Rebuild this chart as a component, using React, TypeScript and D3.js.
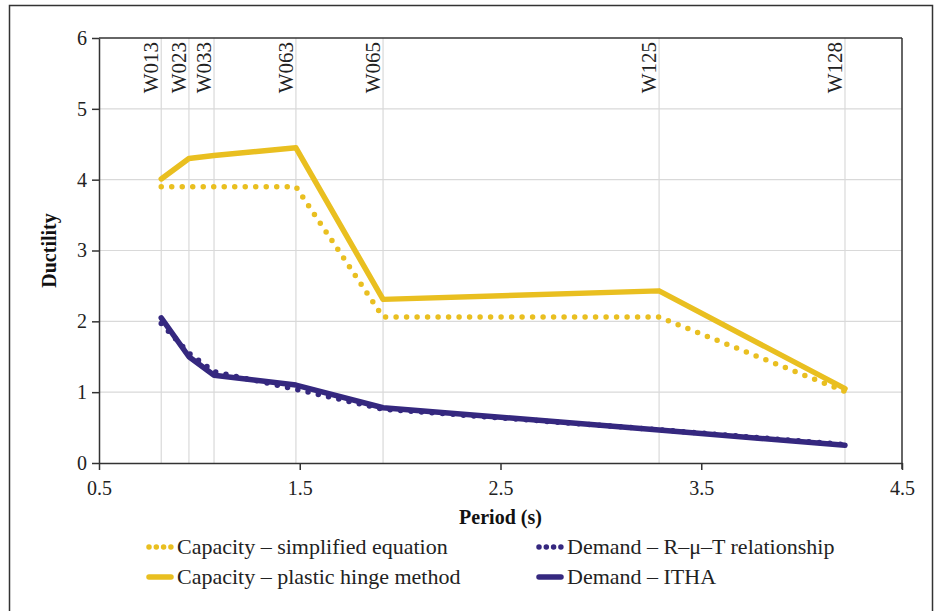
import React, { useEffect, useRef } from 'react'
import * as d3 from 'd3'

const walls = ['W013', 'W023', 'W033', 'W063', 'W065', 'W125', 'W128']
const periods = [0.81, 0.948, 1.073, 1.481, 1.915, 3.29, 4.216]
const capSimplified = [3.9, 3.9, 3.9, 3.9, 2.06, 2.06, 1.01]
const capHinge = [4.01, 4.3, 4.34, 4.45, 2.31, 2.43, 1.05]
const demRmuT = [1.97, 1.55, 1.29, 1.04, 0.76, 0.47, 0.26]
const demITHA = [2.05, 1.5, 1.24, 1.1, 0.78, 0.465, 0.25]
const xTicks = [0.5, 1.5, 2.5, 3.5, 4.5]
const yTicks = [0, 1, 2, 3, 4, 5, 6]

const YELLOW = '#E9BF20'
const PURPLE = '#35287F'
const FONT = '"Liberation Serif", serif'

const seriesList = [
  { name: 'Capacity \u2013 simplified equation', values: capSimplified, color: YELLOW, dotted: true },
  { name: 'Capacity \u2013 plastic hinge method', values: capHinge, color: YELLOW, dotted: false },
  { name: 'Demand \u2013 R\u2013\u03bc\u2013T relationship', values: demRmuT, color: PURPLE, dotted: true },
  { name: 'Demand \u2013 ITHA', values: demITHA, color: PURPLE, dotted: false },
]

const App = () => {
  const ref = useRef<SVGSVGElement>(null)

  useEffect(() => {
    const svg = d3.select(ref.current)
    svg.selectAll('*').remove()
    const W = 938, H = 611
    const m = { left: 99, right: 902, top: 38, bottom: 463 }

    const x = d3.scaleLinear().domain([0.5, 4.5]).range([m.left, m.right])
    const y = d3.scaleLinear().domain([0, 6]).range([m.bottom, m.top])

    svg.append('rect').attr('width', W).attr('height', H).attr('fill', '#fff')
    // outer frame
    svg.append('rect').attr('x', 9.5).attr('y', 5.5).attr('width', 923).attr('height', 620)
      .attr('fill', 'none').attr('stroke', '#333').attr('stroke-width', 1.5)

    // grid
    svg.append('g').selectAll('line').data(yTicks.filter(d => d > 0 && d < 6)).join('line')
      .attr('x1', m.left).attr('x2', m.right)
      .attr('y1', d => y(d)).attr('y2', d => y(d))
      .attr('stroke', '#d9d9d9').attr('stroke-width', 1.2)
    svg.append('g').selectAll('line').data(periods).join('line')
      .attr('x1', d => x(d)).attr('x2', d => x(d))
      .attr('y1', m.top).attr('y2', m.bottom)
      .attr('stroke', '#d9d9d9').attr('stroke-width', 1.2)

    // wall labels
    svg.append('g').selectAll('text').data(walls).join('text')
      .attr('transform', (d, i) => `translate(${x(periods[i]) - 3}, ${m.top + 4}) rotate(-90)`)
      .attr('text-anchor', 'end')
      .attr('font-family', FONT).attr('font-size', 21).attr('fill', '#222')
      .text(d => d)

    // plot border
    svg.append('line').attr('x1', m.left).attr('x2', m.right).attr('y1', m.top).attr('y2', m.top)
      .attr('stroke', '#333').attr('stroke-width', 1.5)
    svg.append('line').attr('x1', m.right).attr('x2', m.right).attr('y1', m.top).attr('y2', m.bottom + 6)
      .attr('stroke', '#333').attr('stroke-width', 1.5)

    // axes
    const xAxis = svg.append('g').attr('transform', `translate(0, ${m.bottom})`)
      .call(d3.axisBottom(x).tickValues(xTicks).tickFormat(d3.format('.1f')).tickSize(7).tickSizeOuter(0))
    const yAxis = svg.append('g').attr('transform', `translate(${m.left}, 0)`)
      .call(d3.axisLeft(y).tickValues(yTicks).tickFormat(d3.format('d')).tickSize(7).tickSizeOuter(0))
    ;[xAxis, yAxis].forEach(a => {
      a.selectAll('path,line').attr('stroke', '#333').attr('stroke-width', 1.5)
      a.selectAll('text').attr('font-family', FONT).attr('font-size', 20).attr('fill', '#222')
    })
    xAxis.selectAll('text').attr('dy', '1.1em')
    yAxis.selectAll('text').attr('x', -12)

    svg.append('text').attr('x', (m.left + m.right) / 2).attr('y', 524)
      .attr('text-anchor', 'middle').attr('font-family', FONT).attr('font-size', 20)
      .attr('font-weight', 'bold').attr('fill', '#111').text('Period (s)')
    svg.append('text').attr('transform', `translate(56, ${(m.top + m.bottom) / 2}) rotate(-90)`)
      .attr('text-anchor', 'middle').attr('font-family', FONT).attr('font-size', 20)
      .attr('font-weight', 'bold').attr('fill', '#111').text('Ductility')

    // series
    const line = d3.line<number>().x((d, i) => x(periods[i])).y(d => y(d))
    const order = [1, 0, 3, 2]
    order.forEach(k => {
      const s = seriesList[k]
      svg.append('path').attr('d', line(s.values))
        .attr('fill', 'none').attr('stroke', s.color)
        .attr('stroke-width', 5.5)
        .attr('stroke-linecap', 'round').attr('stroke-linejoin', 'round')
        .attr('stroke-dasharray', s.dotted ? '0 10.5' : null)
    })

    // legend
    const lx = [147, 537]
    const ly = [547, 577]
    seriesList.forEach((s, i) => {
      const col = i < 2 ? 0 : 1
      const row = i % 2
      const g = svg.append('g').attr('transform', `translate(${lx[col]}, ${ly[row]})`)
      g.append('line').attr('x1', 2).attr('x2', 24).attr('y1', 0).attr('y2', 0)
        .attr('stroke', s.color).attr('stroke-width', 5.5).attr('stroke-linecap', 'round')
        .attr('stroke-dasharray', s.dotted ? '0 7.3' : null)
      g.append('text').attr('x', 30).attr('y', 0).attr('dy', '0.33em')
        .attr('font-family', FONT).attr('font-size', 22).attr('fill', '#222').text(s.name)
    })
  }, [])

  return (
    <svg ref={ref} width={938} height={611} style={{ position: 'absolute', left: 0, top: 0 }} />
  )
}

export default App
